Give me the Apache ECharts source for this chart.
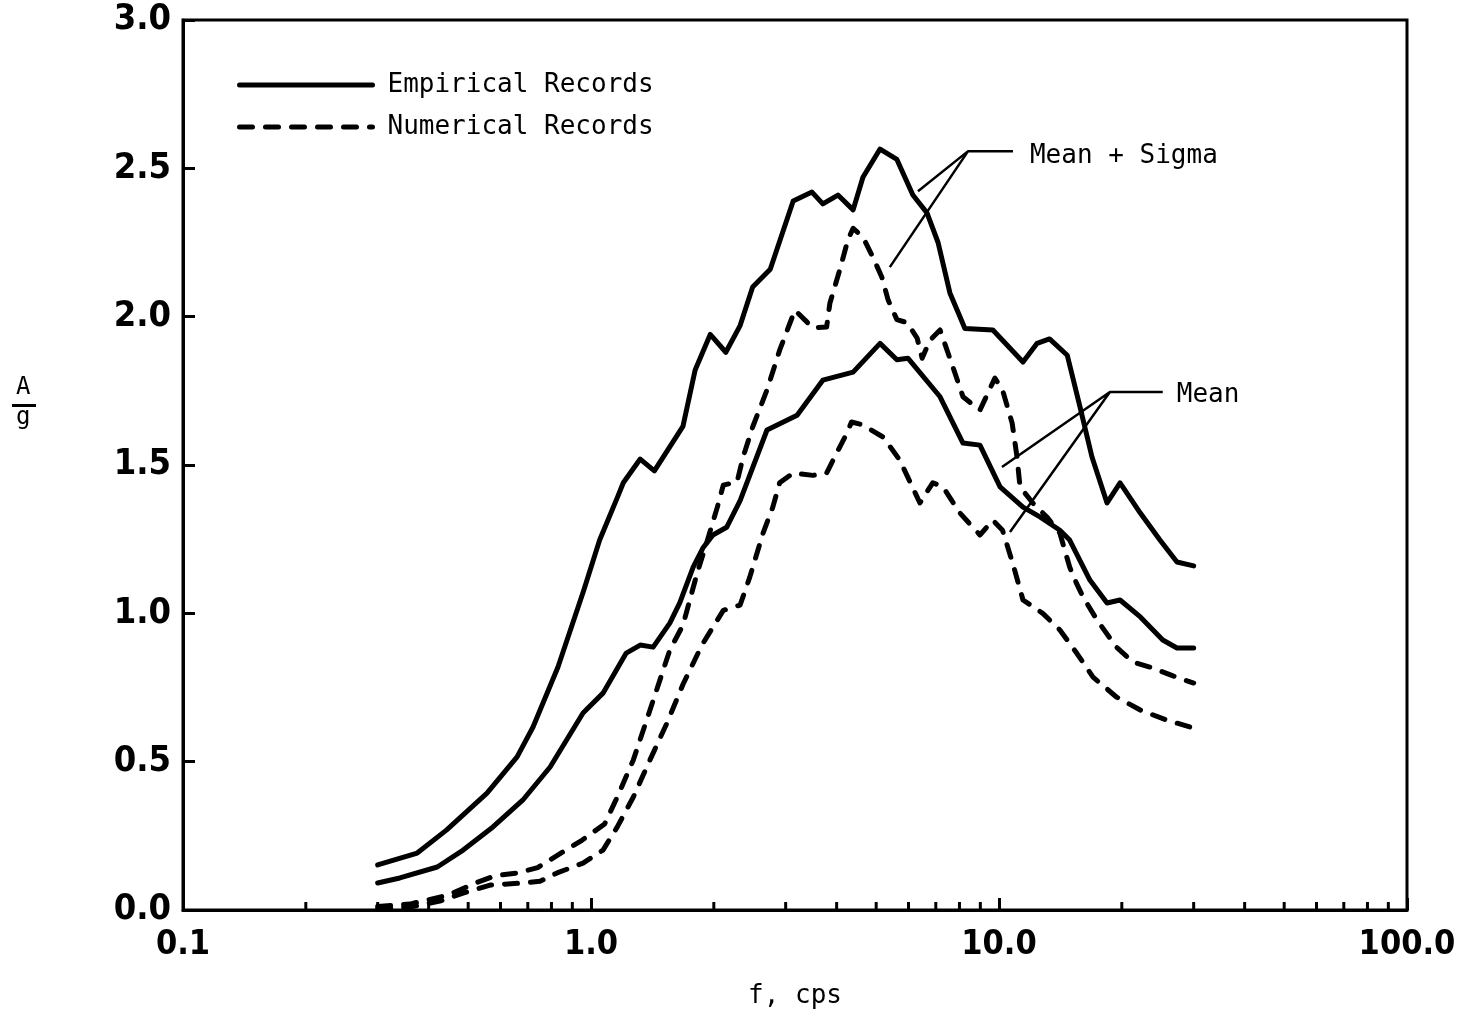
<!DOCTYPE html>
<html>
<head>
<meta charset="utf-8">
<script src="https://cdn.jsdelivr.net/npm/echarts@6/dist/echarts.min.js"></script>
<style>html,body{margin:0;padding:0;background:#fff;}#chart{width:1461px;height:1014px;}</style>
</head>
<body>
<div id="chart"></div>
<script>
// ---- data (frequency in cps, A/g) ----
const xTickLabels = ['0.1', '1.0', '10.0', '100.0'];
const yTickValues = [0, 0.5, 1.0, 1.5, 2.0, 2.5, 3.0];
const minorTickValues = [0.2,0.3,0.4,0.5,0.6,0.7,0.8,0.9, 2,3,4,5,6,7,8,9, 20,30,40,50,60,70,80,90];

const empiricalMeanSigma = [
  [0.3,0.152],[0.375,0.192],[0.443,0.27],[0.556,0.394],[0.659,0.516],[0.721,0.617],[0.83,0.819],
  [0.96,1.078],[1.05,1.247],[1.16,1.39],[1.2,1.44],[1.32,1.52],[1.43,1.48],[1.68,1.63],[1.8,1.82],
  [1.96,1.94],[2.14,1.88],[2.32,1.97],[2.49,2.10],[2.75,2.16],[3.13,2.39],[3.48,2.42],[3.70,2.38],
  [4.03,2.41],[4.39,2.36],[4.64,2.47],[5.11,2.565],[5.62,2.53],[6.15,2.41],[6.66,2.35],[7.09,2.25],
  [7.58,2.08],[8.25,1.96],[9.66,1.955],[11.45,1.847],[12.4,1.91],[13.3,1.925],[14.7,1.87],[15.8,1.695],
  [16.9,1.527],[18.4,1.372],[19.8,1.44],[22.2,1.338],[24.8,1.247],[27.3,1.173],[30,1.16]
];
const empiricalMean = [
  [0.3,0.091],[0.34,0.108],[0.42,0.145],[0.486,0.202],[0.575,0.28],[0.68,0.37],[0.794,0.482],
  [0.956,0.664],[1.07,0.731],[1.22,0.866],[1.32,0.893],[1.42,0.886],[1.56,0.967],[1.65,1.035],
  [1.78,1.156],[1.88,1.22],[1.99,1.264],[2.15,1.29],[2.32,1.38],[2.70,1.618],[3.2,1.668],[3.7,1.786],
  [4.39,1.813],[5.11,1.91],[5.62,1.855],[5.98,1.86],[7.17,1.73],[8.16,1.574],[8.98,1.567],[10.06,1.426],
  [11.45,1.358],[12.6,1.325],[14.1,1.28],[14.9,1.247],[16.7,1.112],[18.4,1.035],[19.8,1.045],
  [22.2,0.988],[25.2,0.91],[27.3,0.883],[30,0.883]
];
const numericalMeanSigma = [
  [0.3,0.012],[0.36,0.02],[0.446,0.05],[0.519,0.09],[0.58,0.115],[0.66,0.125],[0.74,0.143],[0.84,0.19],
  [0.95,0.235],[1.08,0.29],[1.16,0.381],[1.27,0.506],[1.395,0.674],[1.56,0.876],[1.68,0.96],[1.82,1.135],
  [1.92,1.237],[2.04,1.358],[2.11,1.432],[2.28,1.443],[2.36,1.527],[2.49,1.628],[2.70,1.753],[2.9,1.887],
  [3.16,2.022],[3.5,1.962],[3.78,1.965],[3.85,2.045],[4.07,2.157],[4.26,2.258],[4.39,2.298],[4.64,2.268],
  [4.91,2.20],[5.16,2.134],[5.35,2.056],[5.62,1.99],[5.95,1.98],[6.3,1.928],[6.48,1.86],[6.77,1.92],
  [7.17,1.955],[7.71,1.83],[8.16,1.73],[8.98,1.685],[9.77,1.793],[10.2,1.753],[10.77,1.641],[11.07,1.527],
  [11.26,1.426],[12.1,1.372],[13.1,1.325],[14.1,1.27],[14.9,1.156],[15.5,1.10],[16.07,1.055],[17.4,0.977],
  [19.4,0.886],[21.3,0.836],[23.8,0.816],[26.7,0.789],[30,0.765]
];
const numericalMean = [
  [0.3,0.005],[0.36,0.01],[0.426,0.03],[0.486,0.057],[0.566,0.084],[0.68,0.091],[0.75,0.097],[0.826,0.125],
  [0.956,0.158],[1.07,0.202],[1.16,0.28],[1.27,0.381],[1.395,0.506],[1.535,0.63],[1.68,0.76],[1.87,0.893],
  [2.11,1.01],[2.32,1.028],[2.45,1.122],[2.64,1.27],[2.79,1.358],[2.9,1.44],[3.13,1.473],[3.5,1.465],
  [3.78,1.473],[4.0,1.54],[4.24,1.608],[4.35,1.645],[4.64,1.635],[5.2,1.594],[5.71,1.517],[6.4,1.372],
  [6.88,1.44],[7.29,1.426],[8.02,1.338],[8.98,1.264],[9.66,1.314],[10.2,1.28],[10.8,1.17],[11.45,1.045],
  [12.8,1.0],[14.1,0.944],[15.5,0.866],[17.0,0.785],[19.4,0.718],[22.2,0.674],[25.8,0.64],[30,0.613]
];
// annotation leader lines (data coordinates)
const sigmaLeader = [[10.82,2.558],[8.40,2.558],[6.33,2.423],[8.40,2.558],[5.40,2.167]];
const meanLeader = [[25.2,1.746],[18.7,1.746],[10.17,1.493],[18.7,1.746],[10.64,1.274]];
const sigmaLabel = 'Mean + Sigma';
const meanLabel = 'Mean';
const legendNames = ['Empirical Records', 'Numerical Records'];

const chart = echarts.init(document.getElementById('chart'), null, {renderer: 'canvas'});
const black = '#000';
const solidStyle = {color: black, width: 5, type: 'solid', join: 'round', cap: 'round'};
const dashStyle = {color: black, width: 5, type: [13, 13], join: 'round', cap: 'round'};
const mono = 'DejaVu Sans Mono';

const option = {
  animation: false,
  backgroundColor: '#fff',
  grid: {left: 183, right: 54, top: 20, bottom: 104, show: true, borderColor: black, borderWidth: 3, backgroundColor: 'transparent'},
  legend: {
    data: legendNames.map(n => ({name: n})),
    orient: 'vertical', left: 232, top: 67,
    itemWidth: 133, itemHeight: 26, itemGap: 16,
    selectedMode: false,
    itemStyle: {opacity: 0},
    lineStyle: {width: 5, color: black, cap: 'round'},
    textStyle: {fontFamily: mono, fontSize: 26, color: black, lineHeight: 26, padding: [0, 0, 0, 10]}
  },
  xAxis: {
    type: 'log', logBase: 10, min: 0.1, max: 100,
    axisLine: {lineStyle: {color: black, width: 3}},
    axisTick: {inside: true, length: 12, lineStyle: {color: black, width: 3}},
    axisLabel: {
      formatter: function (v) { const i = Math.round(Math.log10(v)) + 1; return xTickLabels[i] || ''; },
      fontFamily: "'Liberation Sans Narrow', 'DejaVu Sans Condensed', sans-serif", fontWeight: 'bold', fontSize: 34, color: black, margin: 18
    },
    splitLine: {show: false},
    minorTick: {show: false},
    name: 'f, cps', nameLocation: 'middle', nameGap: 73,
    nameTextStyle: {fontFamily: mono, fontSize: 26, color: black}
  },
  yAxis: {
    type: 'value', min: 0, max: 3, interval: 0.5,
    axisLine: {show: true, lineStyle: {color: black, width: 3}},
    axisTick: {inside: true, length: 12, lineStyle: {color: black, width: 3}},
    axisLabel: {
      formatter: v => v.toFixed(1),
      fontFamily: 'DejaVu Sans Condensed', fontWeight: 'bold', fontSize: 36, color: black, margin: 12
    },
    splitLine: {show: false}
  },
  series: [
    {name: legendNames[0], type: 'line', data: empiricalMeanSigma, symbol: 'none', lineStyle: solidStyle, itemStyle: {color: black}, z: 3},
    {name: legendNames[0], type: 'line', data: empiricalMean, symbol: 'none', lineStyle: solidStyle, itemStyle: {color: black}, z: 3},
    {name: legendNames[1], type: 'line', data: numericalMeanSigma, symbol: 'none', lineStyle: dashStyle, itemStyle: {color: black}, z: 3},
    {name: legendNames[1], type: 'line', data: numericalMean, symbol: 'none', lineStyle: dashStyle, itemStyle: {color: black}, z: 3},
    {name: 'sigmaLeader', type: 'line', data: sigmaLeader, symbol: 'none', silent: true, lineStyle: {color: black, width: 2.5}, z: 4},
    {name: 'meanLeader', type: 'line', data: meanLeader, symbol: 'none', silent: true, lineStyle: {color: black, width: 2.5}, z: 4},
    {
      name: 'minorTicks', type: 'custom', silent: true, clip: false, z: 5,
      data: minorTickValues.map(v => [v, 0]),
      encode: {x: 0, y: 1},
      renderItem: function (params, api) {
        const p = api.coord([api.value(0), 0]);
        return {type: 'line', shape: {x1: p[0], y1: p[1], x2: p[0], y2: p[1] - 8}, style: {stroke: black, lineWidth: 3}};
      }
    }
  ]
};
chart.setOption(option);

// text labels for annotations, anchored at the leader lines' ends
const ps = chart.convertToPixel({gridIndex: 0}, sigmaLeader[0]);
const pm = chart.convertToPixel({gridIndex: 0}, meanLeader[0]);
chart.setOption({
  graphic: [
    {type: 'text', left: ps[0] + 17, top: ps[1] - 8, style: {text: sigmaLabel, font: '26px "DejaVu Sans Mono"', fill: black}},
    {type: 'text', left: pm[0] + 14, top: pm[1] - 10, style: {text: meanLabel, font: '26px "DejaVu Sans Mono"', fill: black}},
    {type: 'text', left: 16, top: 376, style: {text: 'A', font: '24px "DejaVu Sans Mono"', fill: black}},
    {type: 'rect', left: 12, top: 404, shape: {width: 24, height: 3}, style: {fill: black}},
    {type: 'text', left: 16, top: 406, style: {text: 'g', font: '24px "DejaVu Sans Mono"', fill: black}}
  ]
});
</script>
</body>
</html>
